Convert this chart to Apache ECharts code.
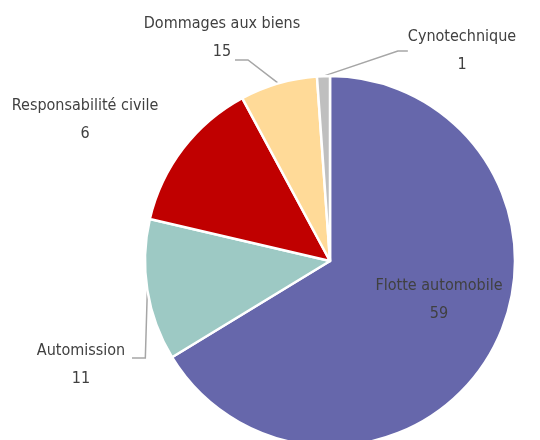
<!DOCTYPE html>
<html>
<head>
<meta charset="utf-8">
<script src="https://cdn.jsdelivr.net/npm/echarts@6/dist/echarts.min.js"></script>
<style>
  html, body { margin: 0; padding: 0; background: #fff; }
  #chart { width: 540px; height: 440px; }
</style>
</head>
<body>
<div id="chart"></div>
<script>
  // categories, clockwise from 12 o'clock
  const categories = ['Flotte automobile', 'Automission', 'Responsabilité civile', 'Dommages aux biens', 'Cynotechnique'];
  // slice sizes as drawn in the picture
  const sliceValues = [59, 11, 12, 6, 1];
  // numbers printed in the labels
  const labelValues = ['59', '11', '6', '15', '1'];
  const colors = ['#6667AB', '#9DC9C4', '#C00000', '#FFDA98', '#BFBFBF'];

  // where each label sits (center of the text block)
  const labelSpots = [[439, 300], [81, 365], [85, 120], [222, 38], [462, 51]];

  const chart = echarts.init(document.getElementById('chart'));

  const data = categories.map((name, i) => ({
    name: name,
    value: sliceValues[i],
    itemStyle: { color: colors[i] },
    labelLine: { show: i !== 0 && i !== 2 }
  }));

  chart.setOption({
    animation: false,
    series: [{
      type: 'pie',
      center: [330, 261],
      radius: 185,
      startAngle: 90,
      clockwise: true,
      avoidLabelOverlap: false,
      data: data,
      itemStyle: { borderColor: '#fff', borderWidth: 2.5 },
      label: {
        show: true,
        position: 'outside',
        formatter: (p) => p.name + '\n' + labelValues[p.dataIndex],
        fontStyle: 'condensed',
        fontFamily: '"DejaVu Sans Condensed", "DejaVu Sans", sans-serif',
        fontSize: 16,
        lineHeight: 28,
        color: '#404040',
        align: 'center'
      },
      labelLine: {
        show: true,
        length: 10,
        length2: 10,
        lineStyle: { color: '#A6A6A6', width: 1.5 }
      },
      labelLayout: (params) => {
        const i = params.dataIndex;
        const spot = labelSpots[i];
        const out = { x: spot[0], y: spot[1], align: 'center', verticalAlign: 'middle' };
        const p0 = params.labelLinePoints && params.labelLinePoints[0];
        // elbow leader lines like the original
        if (p0 && i === 1) {
          out.labelLinePoints = [p0, [p0[0] - 2, spot[1] - 7], [spot[0] + 51, spot[1] - 7]];
        }
        if (p0 && i === 3) {
          out.labelLinePoints = [p0, [spot[0] + 26, spot[1] + 22], [spot[0] + 13, spot[1] + 22]];
        }
        return out;
      }
    }]
  });
</script>
</body>
</html>
